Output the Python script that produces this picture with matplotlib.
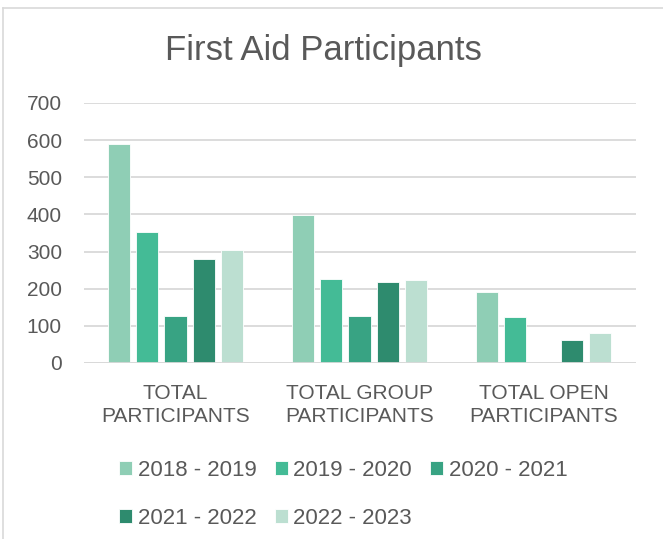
import numpy as np
import matplotlib.pyplot as plt

# Data
categories = ["TOTAL\nPARTICIPANTS", "TOTAL GROUP\nPARTICIPANTS", "TOTAL OPEN\nPARTICIPANTS"]
seasons = ["2018 - 2019", "2019 - 2020", "2020 - 2021", "2021 - 2022", "2022 - 2023"]
v_2018 = [590, 398, 190]
v_2019 = [352, 225, 124]
v_2020 = [127, 127, 0]
v_2021 = [280, 217, 62]
v_2022 = [305, 223, 80]
values = [v_2018, v_2019, v_2020, v_2021, v_2022]
colors = ["#8fceb5", "#44bb96", "#38a383", "#2e8b6e", "#bcdfd1"]

plt.rcParams['font.family'] = ['Liberation Sans', 'DejaVu Sans']
text_color = "#595959"

fig = plt.figure(figsize=(6.63, 5.39), dpi=100)
ax = fig.add_axes([83.5 / 663, 176 / 539, 552 / 663, 260 / 539])

x = np.arange(len(categories))
slot = 0.153
width = 0.121
for i, (s, v) in enumerate(zip(seasons, values)):
    ax.bar(x + (i - 2) * slot, v, width, color=colors[i], label=s,
           edgecolor="white", linewidth=0.6, zorder=3)

ax.set_xlim(-0.5, 2.5)
ax.set_ylim(0, 700)
ax.set_yticks(range(0, 701, 100))
ax.grid(axis="y", color="#d9d9d9", linewidth=1.3, zorder=0)
for sp in ax.spines.values():
    sp.set_visible(False)
ax.axhline(0, color="#d9d9d9", linewidth=1.3, zorder=4)
ax.set_xticks(x)
ax.set_xticklabels(categories, fontsize=15, color=text_color, linespacing=1.3)
ax.tick_params(axis="both", length=0, labelsize=15, colors=text_color)
ax.tick_params(axis="x", pad=15)
ax.tick_params(axis="y", pad=15.5)

fig.text(323 / 663, 1 - 60 / 539, "First Aid Participants", fontsize=25,
         color=text_color, ha="center", va="baseline")

# legend, row-major order
h, l = ax.get_legend_handles_labels()
order = [0, 3, 1, 4, 2]
fig.legend([h[i] for i in order], [l[i] for i in order], ncol=3,
           loc="upper left", bbox_to_anchor=(108 / 663, 1 - 449 / 539),
           frameon=False, fontsize=16, borderpad=0, handlelength=0.6,
           handleheight=0.6, handletextpad=0.25, columnspacing=0.8,
           labelspacing=1.2, labelcolor=text_color)

# chart border
fig.add_artist(plt.Line2D([3 / 663, 3 / 663], [0, 1 - 8 / 539], color="#d9d9d9", lw=1.2))
fig.add_artist(plt.Line2D([3 / 663, 1], [1 - 8 / 539, 1 - 8 / 539], color="#d9d9d9", lw=1.2))

fig.savefig("out.png", dpi=100)
